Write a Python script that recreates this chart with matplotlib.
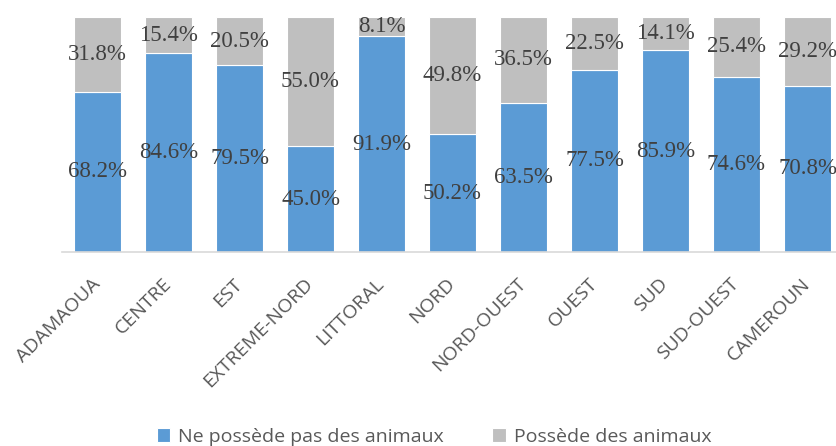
import matplotlib.pyplot as plt
import numpy as np

regions = ['ADAMAOUA', 'CENTRE', 'EST', 'EXTREME-NORD', 'LITTORAL', 'NORD',
           'NORD-OUEST', 'OUEST', 'SUD', 'SUD-OUEST', 'CAMEROUN']
no_animals = [68.2, 84.6, 79.5, 45.0, 91.9, 50.2, 63.5, 77.5, 85.9, 74.6, 70.8]
animals = [31.8, 15.4, 20.5, 55.0, 8.1, 49.8, 36.5, 22.5, 14.1, 25.4, 29.2]

blue = '#5B9BD5'
grey = '#BFBFBF'

W, H = 836, 446
fig = plt.figure(figsize=(W / 100, H / 100), dpi=100)
# plot area runs past the right edge like in the original
ax = fig.add_axes([62 / W, 1 - 252 / H, (843 - 62) / W, (252 - 17) / H])

x = np.arange(len(regions))
ax.bar(x, no_animals, width=0.66, color=blue, edgecolor='white', linewidth=0.8,
       label='Ne possède pas des animaux')
ax.bar(x, animals, width=0.66, bottom=no_animals, color=grey, edgecolor='white',
       linewidth=0.8, label='Possède des animaux')

for i in range(len(regions)):
    ax.text(x[i], no_animals[i] / 2, f'{no_animals[i]:.1f}%', ha='center', va='center',
            family='Liberation Serif', fontsize=16.5, color='#404040')
    ax.text(x[i], no_animals[i] + animals[i] / 2, f'{animals[i]:.1f}%', ha='center',
            va='center', family='Liberation Serif', fontsize=16.5, color='#404040')

ax.set_xlim(-0.5, len(regions) - 0.5)
ax.set_ylim(0, 100)
ax.set_yticks([])
for s in ['top', 'right', 'left']:
    ax.spines[s].set_visible(False)
ax.spines['bottom'].set_color('#D9D9D9')
ax.spines['bottom'].set_linewidth(1.2)
ax.set_xticks(x)
ax.set_xticklabels(regions, rotation=45, ha='right', va='center', rotation_mode='anchor',
                   family='Open Sans', fontsize=14, color='#595959')
ax.tick_params(axis='x', length=0, pad=21)

fig.legend(loc='center', bbox_to_anchor=(434 / W, 1 - 437 / H), ncol=2, frameon=False,
           prop={'family': 'Open Sans', 'size': 14}, labelcolor='#595959',
           handlelength=0.7, handleheight=0.7, handletextpad=0.4, columnspacing=2.5)

plt.savefig('out.png', dpi=100)
